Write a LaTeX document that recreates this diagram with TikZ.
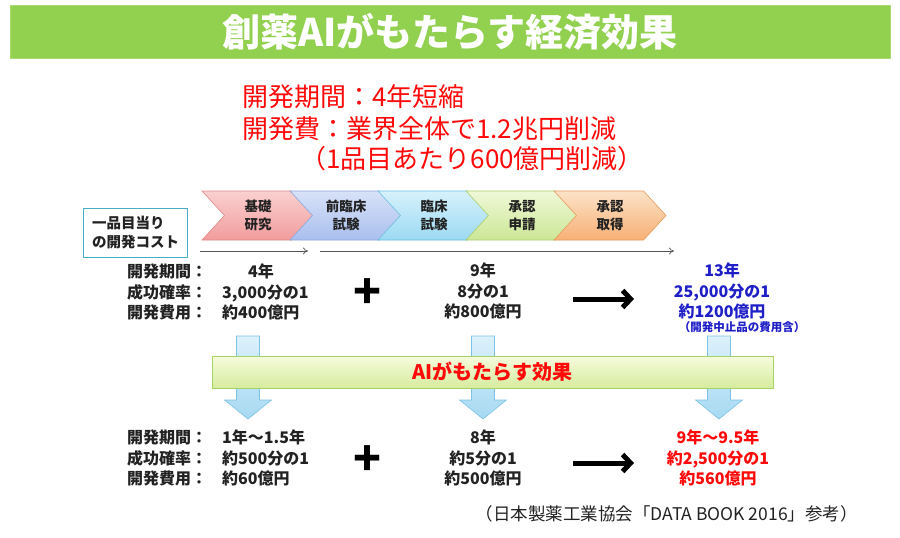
\documentclass[tikz,border=0pt]{standalone}
\usepackage{fontspec}
\setmainfont{Noto Sans CJK JP}
\usetikzlibrary{arrows.meta,shapes.symbols}
\definecolor{titleG}{HTML}{92D050}
\definecolor{redT}{HTML}{FF0A0A}
\definecolor{blueT}{HTML}{1F1FC8}
\definecolor{boxT}{HTML}{4BACC6}
\definecolor{greyA}{HTML}{555555}
\definecolor{inkT}{HTML}{222222}
\definecolor{pinkTop}{HTML}{FAD0D0}
\definecolor{pinkBot}{HTML}{F29C9C}
\definecolor{pinkLine}{HTML}{E38888}
\definecolor{periTop}{HTML}{D8E2F8}
\definecolor{periBot}{HTML}{A9BFEE}
\definecolor{periLine}{HTML}{8CA6DA}
\definecolor{cyanTop}{HTML}{D6F1FB}
\definecolor{cyanBot}{HTML}{9CDAF3}
\definecolor{cyanLine}{HTML}{6CBFE0}
\definecolor{limeTop}{HTML}{EFF8D8}
\definecolor{limeBot}{HTML}{CCE796}
\definecolor{limeLine}{HTML}{A8CE6A}
\definecolor{orngTop}{HTML}{FCE2C8}
\definecolor{orngBot}{HTML}{F7B075}
\definecolor{orngLine}{HTML}{E69C5C}
\definecolor{dropTop}{HTML}{DCF1FB}
\definecolor{dropBot}{HTML}{A6D9F2}
\definecolor{dropLine}{HTML}{7CC3E6}
\definecolor{barTop}{HTML}{F6FBDD}
\definecolor{barBot}{HTML}{D6EC9E}
\definecolor{barLine}{HTML}{A6D26A}

\begin{document}
\begin{tikzpicture}[x=1pt, y=-1pt,
  phase/.style={signal, signal from=west, signal to=east, signal pointer angle=95,
    minimum width=112pt, minimum height=49pt, inner sep=0pt, line width=0.6pt,
    font=\fontsize{13.5}{18}\selectfont\bfseries, text=inkT, align=center},
  stat/.style={inner sep=0pt, font=\fontsize{16}{20.5}\selectfont\bfseries, text=inkT},
  redtxt/.style={inner sep=0pt, anchor=west, font=\fontsize{26}{26}\selectfont, text=redT},
  downarr/.style={top color=dropTop, bottom color=dropBot, draw=dropLine, line width=0.6pt},
  bigarrow/.style={line width=5pt, -{Straight Barb[length=8pt,width=17pt]}},
  plus/.style={inner sep=0pt, font=\fontsize{46}{46}\selectfont\bfseries}
]
\useasboundingbox (0,0) rectangle (900,538);

% Title
\node[fill=titleG, draw=titleG!80!white, minimum width=880pt, minimum height=53pt, inner sep=0pt,
  font=\fontsize{38}{38}\selectfont\bfseries, text=white] (title) at (450,31.5) {創薬AIがもたらす経済効果};

% Red summary
\node[redtxt] (sum1) at (242,97) {開発期間：4年短縮};
\node[redtxt] (sum2) at (242,129) {開発費：業界全体で1.2兆円削減};
\node[redtxt] (sum3) at (300,159) {（1品目あたり600億円削減）};

% Phases
\node[phase, top color=pinkTop, bottom color=pinkBot, draw=pinkLine] (p1) at (258,215.5) {基礎\\研究};
\node[phase, top color=periTop, bottom color=periBot, draw=periLine] (p2) at (346,215.5) {前臨床\\試験};
\node[phase, top color=cyanTop, bottom color=cyanBot, draw=cyanLine] (p3) at (434,215.5) {臨床\\試験};
\node[phase, top color=limeTop, bottom color=limeBot, draw=limeLine] (p4) at (522,215.5) {承認\\申請};
\node[phase, top color=orngTop, bottom color=orngBot, draw=orngLine] (p5) at (610,215.5) {承認\\取得};

% Cost per product
\node[draw=boxT, line width=1.2pt, minimum width=104pt, minimum height=49pt, inner sep=0pt,
  align=left, font=\fontsize{14.5}{19}\selectfont\bfseries, text=inkT] (cost) at (135.5,233) {一品目当り\\の開発コスト};

% Spans
\coordinate (s1a) at (200,251);
\coordinate (s1b) at (308,251);
\coordinate (s2a) at (320,251);
\coordinate (s2b) at (674,251);
\draw[greyA, line width=0.7pt, -{To[length=5pt,width=7pt]}] (s1a) -- (s1b);
\draw[greyA, line width=0.7pt, -{To[length=5pt,width=7pt]}] (s2a) -- (s2b);

% Down arrows behind the bar
\foreach \cx in {248,483,719}
  \draw[downarr] (\cx-11.5,336) -- (\cx+11.5,336) -- (\cx+11.5,400) -- (\cx+23.5,400)
    -- (\cx,419) -- (\cx-23.5,400) -- (\cx-11.5,400) -- cycle;

% AI bar
\node[top color=barTop, bottom color=barBot, draw=barLine, line width=0.8pt,
  minimum width=561pt, minimum height=32pt, inner sep=0pt,
  font=\fontsize{20}{20}\selectfont\bfseries, text=redT] (aibar) at (492.5,372) {AIがもたらす効果};

% Now
\node[stat, anchor=west, align=left] (lab1) at (127,292) {開発期間：\\成功確率：\\開発費用：};
\node[stat, anchor=west, align=left] (val1) at (222,292) {\hspace*{26pt}4年\\3,000分の1\\約400億円};
\node[plus] (plus1) at (368,294) {+};
\node[stat, align=center] (val2) at (483,291) {9年\\8分の1\\約800億円};
\coordinate (ar1a) at (573,299);
\coordinate (ar1b) at (634,299);
\draw[bigarrow] (ar1a) -- (ar1b);
\node[stat, align=center, text=blueT] (tot1) at (722,291) {13年\\25,000分の1\\約1200億円};
\node[inner sep=0pt, font=\fontsize{11.5}{12}\selectfont\bfseries, text=blueT] (note) at (742,327) {（開発中止品の費用含）};

% With AI
\node[stat, anchor=west, align=left] (lab2) at (127,458) {開発期間：\\成功確率：\\開発費用：};
\node[stat, anchor=west, align=left] (val3) at (222,458) {1年～1.5年\\約500分の1\\約60億円};
\node[plus] (plus2) at (368,461) {+};
\node[stat, align=center] (val4) at (483,458) {8年\\約5分の1\\約500億円};
\coordinate (ar2a) at (573,463);
\coordinate (ar2b) at (634,463);
\draw[bigarrow] (ar2a) -- (ar2b);
\node[stat, align=center, text=redT] (tot2) at (718,458) {9年～9.5年\\約2,500分の1\\約560億円};

% Source
\node[inner sep=0pt, anchor=east, font=\fontsize{17.5}{18}\selectfont, text=inkT] (src) at (858,514) {（日本製薬工業協会「DATA BOOK 2016」参考）};
\end{tikzpicture}
\end{document}
